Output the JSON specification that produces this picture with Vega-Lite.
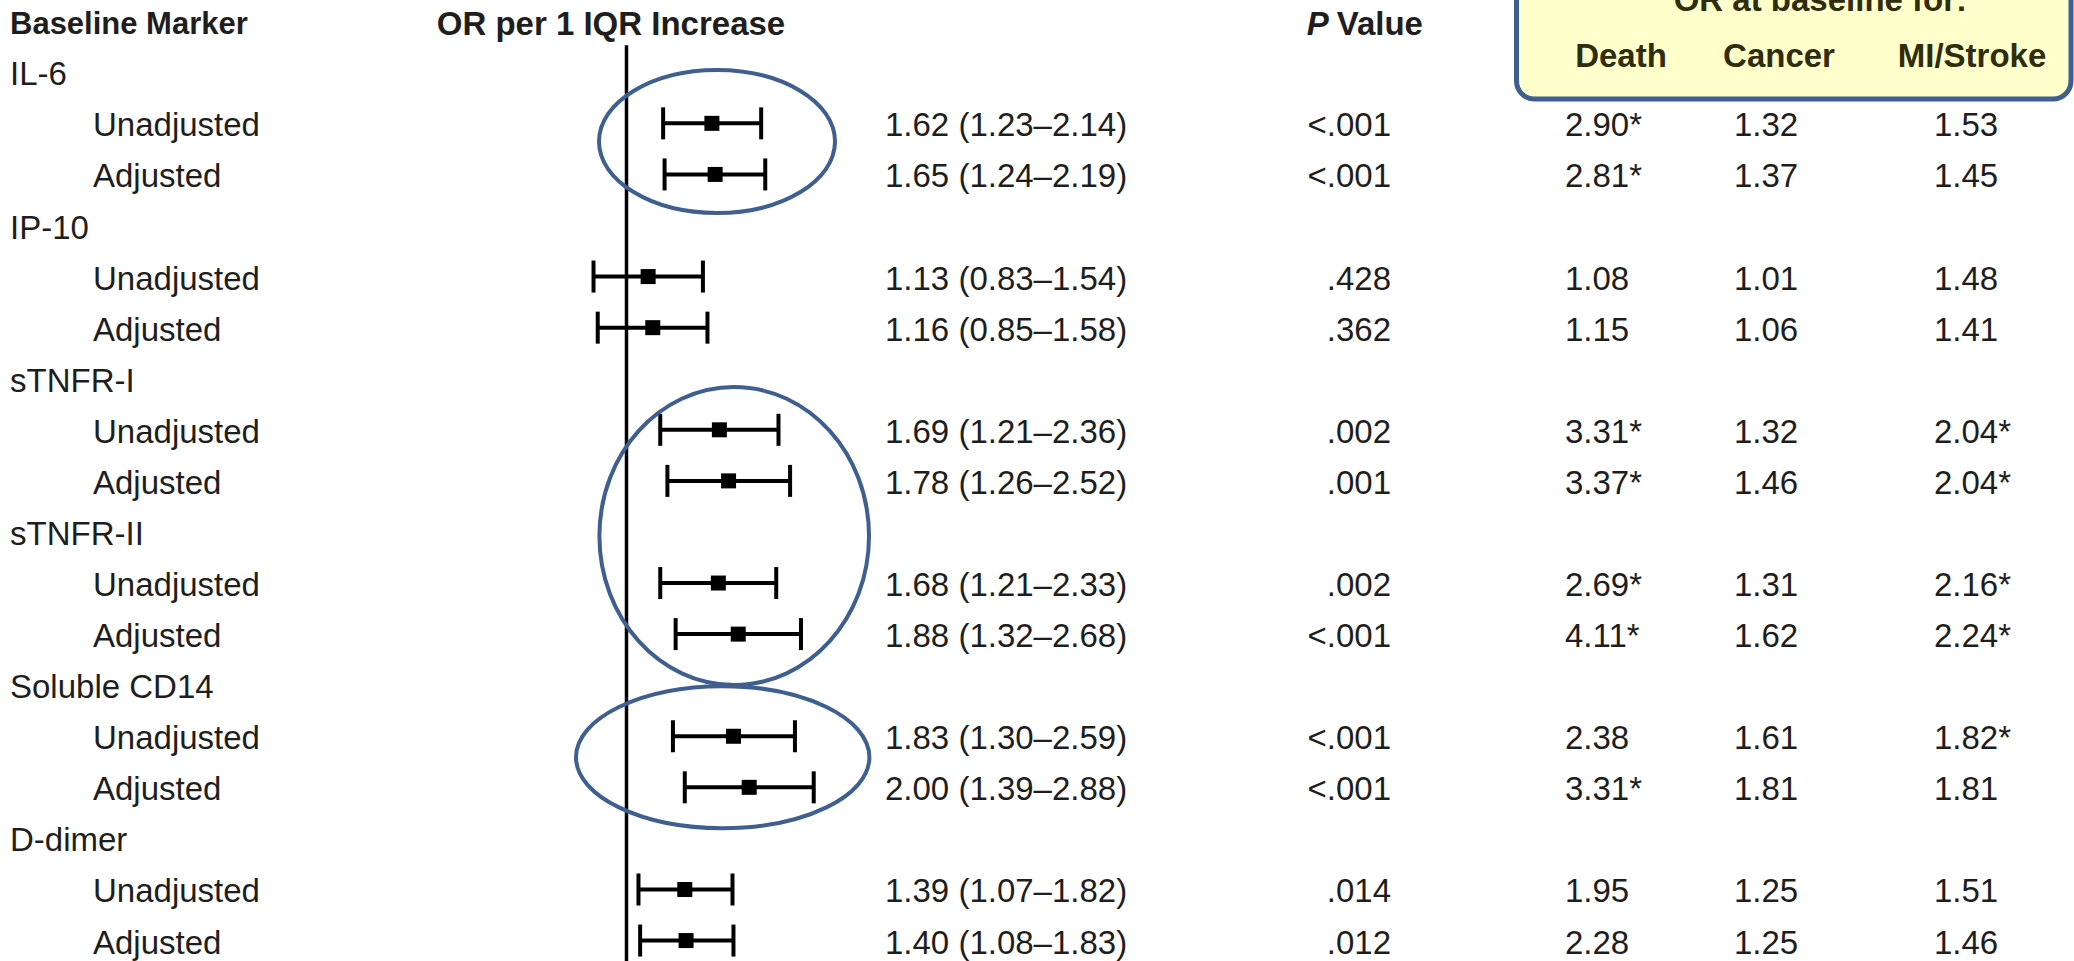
{
  "$schema": "https://vega.github.io/schema/vega-lite/v6.json",
  "width": 2074,
  "height": 961,
  "autosize": {"type": "none"},
  "padding": 0,
  "background": "white",
  "config": {"view": {"stroke": null}, "font": "Liberation Sans", "axis": {"disable": true}, "legend": {"disable": true}},
  "datasets": {
    "rows": [
      {"line": 1, "level": "group", "label": "IL-6"},
      {"line": 2, "level": "sub", "label": "Unadjusted", "or": 1.62, "lo": 1.23, "hi": 2.14, "ci": "1.62 (1.23–2.14)", "p": "<.001", "death": "2.90*", "cancer": "1.32", "mi": "1.53"},
      {"line": 3, "level": "sub", "label": "Adjusted", "or": 1.65, "lo": 1.24, "hi": 2.19, "ci": "1.65 (1.24–2.19)", "p": "<.001", "death": "2.81*", "cancer": "1.37", "mi": "1.45"},
      {"line": 4, "level": "group", "label": "IP-10"},
      {"line": 5, "level": "sub", "label": "Unadjusted", "or": 1.13, "lo": 0.83, "hi": 1.54, "ci": "1.13 (0.83–1.54)", "p": ".428", "death": "1.08", "cancer": "1.01", "mi": "1.48"},
      {"line": 6, "level": "sub", "label": "Adjusted", "or": 1.16, "lo": 0.85, "hi": 1.58, "ci": "1.16 (0.85–1.58)", "p": ".362", "death": "1.15", "cancer": "1.06", "mi": "1.41"},
      {"line": 7, "level": "group", "label": "sTNFR-I"},
      {"line": 8, "level": "sub", "label": "Unadjusted", "or": 1.69, "lo": 1.21, "hi": 2.36, "ci": "1.69 (1.21–2.36)", "p": ".002", "death": "3.31*", "cancer": "1.32", "mi": "2.04*"},
      {"line": 9, "level": "sub", "label": "Adjusted", "or": 1.78, "lo": 1.26, "hi": 2.52, "ci": "1.78 (1.26–2.52)", "p": ".001", "death": "3.37*", "cancer": "1.46", "mi": "2.04*"},
      {"line": 10, "level": "group", "label": "sTNFR-II"},
      {"line": 11, "level": "sub", "label": "Unadjusted", "or": 1.68, "lo": 1.21, "hi": 2.33, "ci": "1.68 (1.21–2.33)", "p": ".002", "death": "2.69*", "cancer": "1.31", "mi": "2.16*"},
      {"line": 12, "level": "sub", "label": "Adjusted", "or": 1.88, "lo": 1.32, "hi": 2.68, "ci": "1.88 (1.32–2.68)", "p": "<.001", "death": "4.11*", "cancer": "1.62", "mi": "2.24*"},
      {"line": 13, "level": "group", "label": "Soluble CD14"},
      {"line": 14, "level": "sub", "label": "Unadjusted", "or": 1.83, "lo": 1.30, "hi": 2.59, "ci": "1.83 (1.30–2.59)", "p": "<.001", "death": "2.38", "cancer": "1.61", "mi": "1.82*"},
      {"line": 15, "level": "sub", "label": "Adjusted", "or": 2.00, "lo": 1.39, "hi": 2.88, "ci": "2.00 (1.39–2.88)", "p": "<.001", "death": "3.31*", "cancer": "1.81", "mi": "1.81"},
      {"line": 16, "level": "group", "label": "D-dimer"},
      {"line": 17, "level": "sub", "label": "Unadjusted", "or": 1.39, "lo": 1.07, "hi": 1.82, "ci": "1.39 (1.07–1.82)", "p": ".014", "death": "1.95", "cancer": "1.25", "mi": "1.51"},
      {"line": 18, "level": "sub", "label": "Adjusted", "or": 1.40, "lo": 1.08, "hi": 1.83, "ci": "1.40 (1.08–1.83)", "p": ".012", "death": "2.28", "cancer": "1.25", "mi": "1.46"}
    ],
    "ellipses": [
      {"grp": "IL-6", "cx": 1.6675, "cy": 2.355},
      {"grp": "sTNFR", "cx": 1.8377, "cy": 10.08},
      {"grp": "Soluble CD14", "cx": 1.722, "cy": 14.41}
    ],
    "headers": [
      {"key": "box", "text": "OR at baseline for:"},
      {"key": "marker", "text": "Baseline Marker"},
      {"key": "forest", "text": "OR per 1 IQR Increase"},
      {"key": "p", "text": "P"},
      {"key": "value", "text": "Value"},
      {"key": "death", "text": "Death"},
      {"key": "cancer", "text": "Cancer"},
      {"key": "mi", "text": "MI/Stroke"}
    ]
  },
  "resolve": {"scale": {"x": "independent"}},
  "layer": [
    {
      "data": {"name": "headers"},
      "transform": [{"filter": "datum.key == 'box'"}],
      "layer": [
        {
          "mark": {"type": "rect", "fill": "#FFFFCC", "stroke": "#3E5F8F", "strokeWidth": 5, "cornerRadius": 18},
          "encoding": {
            "x": {"datum": "box", "type": "nominal", "scale": {"type": "band", "domain": ["box"], "range": [1516.5, 2071], "paddingInner": 0, "paddingOuter": 0}},
            "y": {"datum": -1.5, "type": "quantitative", "scale": {"domain": [-0.415, 18.4], "reverse": true, "nice": false, "zero": false}},
            "y2": {"datum": 1.523}
          }
        },
        {
          "mark": {"type": "text", "align": "center", "baseline": "alphabetic", "fontSize": 33, "fontWeight": "bold", "fill": "#2F2D0E"},
          "encoding": {
            "x": {"datum": "box", "type": "nominal", "bandPosition": 0.548, "scale": {"type": "band", "domain": ["box"], "range": [1516.5, 2071], "paddingInner": 0, "paddingOuter": 0}},
            "y": {"datum": -0.2, "type": "quantitative", "scale": {"domain": [-0.415, 18.4], "reverse": true, "nice": false, "zero": false}},
            "text": {"field": "text"}
          }
        }
      ]
    },
    {
      "layer": [
        {
          "data": {"name": "rows"},
          "mark": {"type": "text", "align": "left", "baseline": "middle", "dy": 3, "fontSize": 33, "fill": "#1E1E1E"},
          "encoding": {
            "x": {"field": "level", "type": "nominal", "scale": {"type": "point", "domain": ["group", "sub"], "range": [10, 93], "padding": 0}},
            "y": {"field": "line", "type": "quantitative", "scale": {"domain": [-0.415, 18.4], "reverse": true, "nice": false, "zero": false}},
            "text": {"field": "label"}
          }
        },
        {
          "data": {"name": "headers"},
          "transform": [{"filter": "datum.key == 'marker'"}],
          "mark": {"type": "text", "align": "left", "baseline": "middle", "dy": 4, "fontSize": 31, "fontWeight": "bold", "fill": "#1E1E1E"},
          "encoding": {
            "x": {"datum": "group", "type": "nominal", "scale": {"type": "point", "domain": ["group", "sub"], "range": [10, 93], "padding": 0}},
            "y": {"datum": 0, "type": "quantitative", "scale": {"domain": [-0.415, 18.4], "reverse": true, "nice": false, "zero": false}},
            "text": {"field": "text"}
          }
        }
      ]
    },
    {
      "layer": [
        {
          "data": {"name": "headers"},
          "transform": [{"filter": "datum.key == 'forest'"}],
          "mark": {"type": "rule", "stroke": "black", "strokeWidth": 3.5},
          "encoding": {
            "x": {"datum": 1, "type": "quantitative", "scale": {"type": "log", "domain": [0.7, 3.5], "range": [563.37, 848.24], "nice": false}},
            "y": {"datum": 0.47, "type": "quantitative", "scale": {"domain": [-0.415, 18.4], "reverse": true, "nice": false, "zero": false}},
            "y2": {"datum": 18.4}
          }
        },
        {
          "data": {"name": "headers"},
          "transform": [{"filter": "datum.key == 'forest'"}],
          "mark": {"type": "text", "align": "center", "baseline": "middle", "dy": 4, "fontSize": 33, "fontWeight": "bold", "fill": "#1E1E1E"},
          "encoding": {
            "x": {"datum": 0.916, "type": "quantitative", "scale": {"type": "log", "domain": [0.7, 3.5], "range": [563.37, 848.24], "nice": false}},
            "y": {"datum": 0, "type": "quantitative", "scale": {"domain": [-0.415, 18.4], "reverse": true, "nice": false, "zero": false}},
            "text": {"field": "text"}
          }
        },
        {
          "data": {"name": "rows"},
          "transform": [{"filter": "isValid(datum.or)"}],
          "mark": {"type": "rule", "stroke": "black", "strokeWidth": 4},
          "encoding": {
            "x": {"field": "lo", "type": "quantitative", "scale": {"type": "log", "domain": [0.7, 3.5], "range": [563.37, 848.24], "nice": false}},
            "x2": {"field": "hi"},
            "y": {"field": "line", "type": "quantitative", "scale": {"domain": [-0.415, 18.4], "reverse": true, "nice": false, "zero": false}}
          }
        },
        {
          "data": {"name": "rows"},
          "transform": [{"filter": "isValid(datum.or)"}],
          "mark": {"type": "tick", "orient": "vertical", "size": 32, "thickness": 4, "color": "black", "opacity": 1},
          "encoding": {
            "x": {"field": "lo", "type": "quantitative", "scale": {"type": "log", "domain": [0.7, 3.5], "range": [563.37, 848.24], "nice": false}},
            "y": {"field": "line", "type": "quantitative", "scale": {"domain": [-0.415, 18.4], "reverse": true, "nice": false, "zero": false}}
          }
        },
        {
          "data": {"name": "rows"},
          "transform": [{"filter": "isValid(datum.or)"}],
          "mark": {"type": "tick", "orient": "vertical", "size": 32, "thickness": 4, "color": "black", "opacity": 1},
          "encoding": {
            "x": {"field": "hi", "type": "quantitative", "scale": {"type": "log", "domain": [0.7, 3.5], "range": [563.37, 848.24], "nice": false}},
            "y": {"field": "line", "type": "quantitative", "scale": {"domain": [-0.415, 18.4], "reverse": true, "nice": false, "zero": false}}
          }
        },
        {
          "data": {"name": "rows"},
          "transform": [{"filter": "isValid(datum.or)"}],
          "mark": {"type": "point", "shape": "square", "filled": true, "size": 225, "color": "black", "opacity": 1},
          "encoding": {
            "x": {"field": "or", "type": "quantitative", "scale": {"type": "log", "domain": [0.7, 3.5], "range": [563.37, 848.24], "nice": false}},
            "y": {"field": "line", "type": "quantitative", "scale": {"domain": [-0.415, 18.4], "reverse": true, "nice": false, "zero": false}}
          }
        },
        {
          "data": {"name": "ellipses"},
          "mark": {"type": "point", "filled": false, "stroke": "#3E5F8F", "strokeWidth": 4, "size": 90000, "opacity": 1},
          "encoding": {
            "x": {"field": "cx", "type": "quantitative", "scale": {"type": "log", "domain": [0.7, 3.5], "range": [563.37, 848.24], "nice": false}},
            "y": {"field": "cy", "type": "quantitative", "scale": {"domain": [-0.415, 18.4], "reverse": true, "nice": false, "zero": false}},
            "shape": {
              "field": "grp", "type": "nominal", "legend": null,
              "scale": {
                "domain": ["IL-6", "sTNFR", "Soluble CD14"],
                "range": [
                  "M0.7867,0 C0.7867,0.2633 0.4345,0.4767 0,0.4767 C-0.4345,0.4767 -0.7867,0.2633 -0.7867,0 C-0.7867,-0.2633 -0.4345,-0.4767 0,-0.4767 C0.4345,-0.4767 0.7867,-0.2633 0.7867,0 Z",
                  "M0.8987,0 C0.8987,0.5486 0.4963,0.9933 0,0.9933 C-0.4963,0.9933 -0.8987,0.5486 -0.8987,0 C-0.8987,-0.5486 -0.4963,-0.9933 0,-0.9933 C0.4963,-0.9933 0.8987,-0.5486 0.8987,0 Z",
                  "M0.978,0 C0.978,0.2614 0.5401,0.4733 0,0.4733 C-0.5401,0.4733 -0.978,0.2614 -0.978,0 C-0.978,-0.2614 -0.5401,-0.4733 0,-0.4733 C0.5401,-0.4733 0.978,-0.2614 0.978,0 Z"
                ]
              }
            }
          }
        }
      ]
    },
    {
      "data": {"name": "rows"},
      "transform": [{"filter": "isValid(datum.ci)"}],
      "mark": {"type": "text", "align": "left", "baseline": "middle", "dy": 3, "fontSize": 33, "fill": "#1E1E1E"},
      "encoding": {
        "x": {"datum": "val", "type": "nominal", "scale": {"type": "point", "domain": ["val"], "range": [885, 885], "padding": 0}},
        "y": {"field": "line", "type": "quantitative", "scale": {"domain": [-0.415, 18.4], "reverse": true, "nice": false, "zero": false}},
        "text": {"field": "ci"}
      }
    },
    {
      "layer": [
        {
          "data": {"name": "rows"},
          "transform": [{"filter": "isValid(datum.p)"}],
          "mark": {"type": "text", "align": "right", "baseline": "middle", "dy": 3, "fontSize": 33, "fill": "#1E1E1E"},
          "encoding": {
            "x": {"datum": "val", "type": "nominal", "scale": {"type": "point", "domain": ["head", "val"], "range": [1332.7, 1391], "padding": 0}},
            "y": {"field": "line", "type": "quantitative", "scale": {"domain": [-0.415, 18.4], "reverse": true, "nice": false, "zero": false}},
            "text": {"field": "p"}
          }
        },
        {
          "data": {"name": "headers"},
          "transform": [{"filter": "datum.key == 'p'"}],
          "mark": {"type": "text", "align": "right", "baseline": "middle", "dx": -4, "dy": 4, "fontSize": 33, "fontWeight": "bold", "fontStyle": "italic", "fill": "#1E1E1E"},
          "encoding": {
            "x": {"datum": "head", "type": "nominal", "scale": {"type": "point", "domain": ["head", "val"], "range": [1332.7, 1391], "padding": 0}},
            "y": {"datum": 0, "type": "quantitative", "scale": {"domain": [-0.415, 18.4], "reverse": true, "nice": false, "zero": false}},
            "text": {"field": "text"}
          }
        },
        {
          "data": {"name": "headers"},
          "transform": [{"filter": "datum.key == 'value'"}],
          "mark": {"type": "text", "align": "left", "baseline": "middle", "dx": 4, "dy": 4, "fontSize": 33, "fontWeight": "bold", "fill": "#1E1E1E"},
          "encoding": {
            "x": {"datum": "head", "type": "nominal", "scale": {"type": "point", "domain": ["head", "val"], "range": [1332.7, 1391], "padding": 0}},
            "y": {"datum": 0, "type": "quantitative", "scale": {"domain": [-0.415, 18.4], "reverse": true, "nice": false, "zero": false}},
            "text": {"field": "text"}
          }
        }
      ]
    },
    {
      "layer": [
        {
          "data": {"name": "rows"},
          "transform": [{"filter": "isValid(datum.death)"}],
          "mark": {"type": "text", "align": "left", "baseline": "middle", "dy": 3, "fontSize": 33, "fill": "#1E1E1E"},
          "encoding": {
            "x": {"datum": "val", "type": "nominal", "scale": {"type": "point", "domain": ["val", "head"], "range": [1565, 1621], "padding": 0}},
            "y": {"field": "line", "type": "quantitative", "scale": {"domain": [-0.415, 18.4], "reverse": true, "nice": false, "zero": false}},
            "text": {"field": "death"}
          }
        },
        {
          "data": {"name": "headers"},
          "transform": [{"filter": "datum.key == 'death'"}],
          "mark": {"type": "text", "align": "center", "baseline": "middle", "fontSize": 33, "fontWeight": "bold", "fill": "#2F2D0E"},
          "encoding": {
            "x": {"datum": "head", "type": "nominal", "scale": {"type": "point", "domain": ["val", "head"], "range": [1565, 1621], "padding": 0}},
            "y": {"datum": 0.7, "type": "quantitative", "scale": {"domain": [-0.415, 18.4], "reverse": true, "nice": false, "zero": false}},
            "text": {"field": "text"}
          }
        }
      ]
    },
    {
      "layer": [
        {
          "data": {"name": "rows"},
          "transform": [{"filter": "isValid(datum.cancer)"}],
          "mark": {"type": "text", "align": "left", "baseline": "middle", "dy": 3, "fontSize": 33, "fill": "#1E1E1E"},
          "encoding": {
            "x": {"datum": "val", "type": "nominal", "scale": {"type": "point", "domain": ["val", "head"], "range": [1734, 1779], "padding": 0}},
            "y": {"field": "line", "type": "quantitative", "scale": {"domain": [-0.415, 18.4], "reverse": true, "nice": false, "zero": false}},
            "text": {"field": "cancer"}
          }
        },
        {
          "data": {"name": "headers"},
          "transform": [{"filter": "datum.key == 'cancer'"}],
          "mark": {"type": "text", "align": "center", "baseline": "middle", "fontSize": 33, "fontWeight": "bold", "fill": "#2F2D0E"},
          "encoding": {
            "x": {"datum": "head", "type": "nominal", "scale": {"type": "point", "domain": ["val", "head"], "range": [1734, 1779], "padding": 0}},
            "y": {"datum": 0.7, "type": "quantitative", "scale": {"domain": [-0.415, 18.4], "reverse": true, "nice": false, "zero": false}},
            "text": {"field": "text"}
          }
        }
      ]
    },
    {
      "layer": [
        {
          "data": {"name": "rows"},
          "transform": [{"filter": "isValid(datum.mi)"}],
          "mark": {"type": "text", "align": "left", "baseline": "middle", "dy": 3, "fontSize": 33, "fill": "#1E1E1E"},
          "encoding": {
            "x": {"datum": "val", "type": "nominal", "scale": {"type": "point", "domain": ["val", "head"], "range": [1934, 1972], "padding": 0}},
            "y": {"field": "line", "type": "quantitative", "scale": {"domain": [-0.415, 18.4], "reverse": true, "nice": false, "zero": false}},
            "text": {"field": "mi"}
          }
        },
        {
          "data": {"name": "headers"},
          "transform": [{"filter": "datum.key == 'mi'"}],
          "mark": {"type": "text", "align": "center", "baseline": "middle", "fontSize": 33, "fontWeight": "bold", "fill": "#2F2D0E"},
          "encoding": {
            "x": {"datum": "head", "type": "nominal", "scale": {"type": "point", "domain": ["val", "head"], "range": [1934, 1972], "padding": 0}},
            "y": {"datum": 0.7, "type": "quantitative", "scale": {"domain": [-0.415, 18.4], "reverse": true, "nice": false, "zero": false}},
            "text": {"field": "text"}
          }
        }
      ]
    }
  ]
}
